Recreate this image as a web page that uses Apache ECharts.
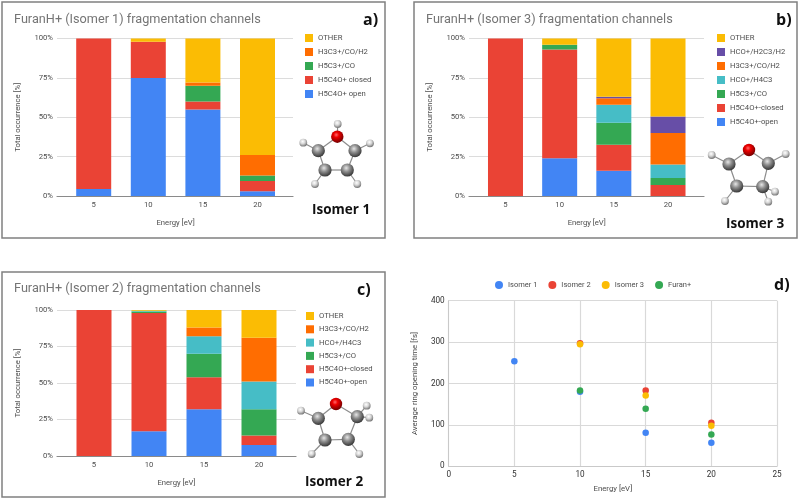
<!DOCTYPE html>
<html><head><meta charset="utf-8">
<style>html,body{margin:0;padding:0;background:#fff}#c{width:800px;height:501px}</style>
<script src="https://cdn.jsdelivr.net/npm/echarts@6/dist/echarts.min.js"></script>
</head><body><div id="c"></div>
<script>
// ---------- data ----------
const energies = ['5', '10', '15', '20'];

// panel a) Isomer 1 (stacked bottom to top)
const a_names  = ['H5C4O+ open', 'H5C4O+ closed', 'H5C3+/CO', 'H3C3+/CO/H2', 'OTHER'];
const a_open   = [4.5, 75, 55, 3];
const a_closed = [95.5, 23, 5, 6.5];
const a_h5c3   = [0, 0, 10, 3.5];
const a_h3c3   = [0, 0, 2, 13];
const a_other  = [0, 2, 28, 74];

// panel b) Isomer 3
const b_names  = ['H5C4O+-open', 'H5C4O+-closed', 'H5C3+/CO', 'HCO+/H4C3', 'H3C3+/CO/H2', 'HCO+/H2C3/H2', 'OTHER'];
const b_open   = [0, 24, 16, 0];
const b_closed = [100, 69, 16.5, 7];
const b_h5c3   = [0, 3, 14, 4.5];
const b_hco    = [0, 0, 11.5, 8.5];
const b_h3c3   = [0, 0, 4, 20];
const b_hco2   = [0, 0, 1, 10.5];
const b_other  = [0, 4, 37, 49.5];

// panel c) Isomer 2
const c_names  = ['H5C4O+-open', 'H5C4O+-closed', 'H5C3+/CO', 'HCO+/H4C3', 'H3C3+/CO/H2', 'OTHER'];
const c_open   = [0, 17, 32, 7.5];
const c_closed = [100, 81, 22, 6.5];
const c_h5c3   = [0, 1, 16, 18];
const c_hco    = [0, 0.5, 12, 19];
const c_h3c3   = [0, 0, 6, 30];
const c_other  = [0, 0.5, 12, 19];

// panel d) ring opening time [fs] vs energy [eV]
const d_isomer1 = [[5, 254], [10, 180], [15, 81], [20, 57]];
const d_isomer2 = [[10, 297], [15, 183], [20, 105]];
const d_isomer3 = [[10, 295], [15, 171], [20, 98]];
const d_furan   = [[10, 183], [15, 139], [20, 77]];

// ---------- styles ----------
const BLUE='#4285f4',RED='#ea4335',YEL='#fbbc04',GRN='#34a853',ORG='#ff6d01',TEAL='#46bdc6',PUR='#674ea7';
const FONT='Roboto';
const LABEL='#4d4d4d';

const a_colors=[BLUE,RED,GRN,ORG,YEL];
const b_colors=[BLUE,RED,GRN,TEAL,ORG,PUR,YEL];
const c_colors=[BLUE,RED,GRN,TEAL,ORG,YEL];

// Each stacked panel: an outer grid (gridlines, y labels, baseline) wider than
// the inner grid that holds the category bands and the bars.
const panels=[
 {id:'a',x0:57,x1:293,y0:38.5,y1:196,inL:66.4,inW:218.4,names:a_names,colors:a_colors,
  vals:[a_open,a_closed,a_h5c3,a_h3c3,a_other],legend:{left:305,top:34,gap:6}},
 {id:'b',x0:469,x1:704,y0:38.5,y1:196,inL:478.4,inW:216.7,names:b_names,colors:b_colors,
  vals:[b_open,b_closed,b_h5c3,b_hco,b_h3c3,b_hco2,b_other],legend:{left:717,top:34,gap:6}},
 {id:'c',x0:57,x1:296,y0:310,y1:456,inL:66.5,inW:220,names:c_names,colors:c_colors,
  vals:[c_open,c_closed,c_h5c3,c_hco,c_h3c3,c_other],legend:{left:306,top:312,gap:5.3}}
];

const grid=[],xAxis=[],yAxis=[],series=[],legend=[];
panels.forEach((p,i)=>{
 const outer=grid.length;
 grid.push({left:p.x0,top:p.y0,width:p.x1-p.x0,height:p.y1-p.y0});
 xAxis.push({type:'value',gridIndex:outer,min:0,max:1,
  axisLine:{show:true,lineStyle:{color:'#8a8a8a',width:1.2}},
  axisTick:{show:false},splitLine:{show:false},axisLabel:{show:false}});
 yAxis.push({type:'value',gridIndex:outer,min:0,max:100,interval:25,
  name:'Total occurrence [%]',nameLocation:'middle',nameGap:35,
  nameTextStyle:{fontFamily:FONT,fontSize:7.7,color:LABEL},
  axisLine:{show:false},axisTick:{show:false},
  splitLine:{lineStyle:{color:'#dcdcdc',width:1}},
  axisLabel:{formatter:'{value}%',fontFamily:FONT,fontSize:7.7,color:LABEL,margin:4}});
 const inner=grid.length;
 grid.push({left:p.inL,top:p.y0,width:p.inW,height:p.y1-p.y0});
 xAxis.push({type:'category',gridIndex:inner,data:energies,
  name:'Energy [eV]',nameLocation:'middle',nameGap:23,
  nameTextStyle:{fontFamily:FONT,fontSize:7.7,color:LABEL},
  axisLine:{show:false},axisTick:{show:false},
  axisLabel:{fontFamily:FONT,fontSize:7.7,color:LABEL,margin:5}});
 yAxis.push({type:'value',gridIndex:inner,min:0,max:100,interval:25,show:false});
 p.names.forEach((n,k)=>{
  series.push({type:'bar',name:n,xAxisIndex:inner,yAxisIndex:inner,stack:'s'+p.id,barWidth:35,
   itemStyle:{color:p.colors[k]},data:p.vals[k]});
 });
 legend.push({orient:'vertical',left:p.legend.left,top:p.legend.top,itemWidth:8,itemHeight:8,itemGap:p.legend.gap,
  selectedMode:false,icon:'rect',data:p.names.slice().reverse(),
  textStyle:{fontFamily:FONT,fontSize:7.7,color:LABEL},padding:0});
});

// panel d
const di=grid.length;
grid.push({left:448.7,top:300.7,width:328.3,height:165.6});
xAxis.push({type:'value',gridIndex:di,min:0,max:25,interval:5,
 name:'Energy [eV]',nameLocation:'middle',nameGap:19,
 nameTextStyle:{fontFamily:FONT,fontSize:7.8,color:LABEL},
 axisLine:{show:true,lineStyle:{color:'#c9c9c9'}},axisTick:{show:false},
 splitLine:{show:true,lineStyle:{color:'#d9d9d9',width:1.2}},
 axisLabel:{fontFamily:FONT,fontSize:8.2,color:'#333',margin:5}});
yAxis.push({type:'value',gridIndex:di,min:0,max:400,interval:100,
 name:'Average ring opening time [fs]',nameLocation:'middle',nameGap:30,
 nameTextStyle:{fontFamily:FONT,fontSize:7.8,color:LABEL},
 axisLine:{show:true,lineStyle:{color:'#c9c9c9'}},axisTick:{show:false},
 splitLine:{show:true,lineStyle:{color:'#d9d9d9',width:1.2}},
 axisLabel:{fontFamily:FONT,fontSize:8.2,color:'#333',margin:4}});
[['Isomer 1',d_isomer1,BLUE],['Isomer 2',d_isomer2,RED],['Isomer 3',d_isomer3,YEL],['Furan+',d_furan,GRN]].forEach(s=>{
 series.push({type:'scatter',name:s[0],xAxisIndex:di,yAxisIndex:di,data:s[1],symbolSize:6.5,itemStyle:{color:s[2],opacity:1}});
});
legend.push({orient:'horizontal',left:495,top:281,itemWidth:8,itemHeight:8,itemGap:11,selectedMode:false,padding:0,
 data:['Isomer 1','Isomer 2','Isomer 3','Furan+'].map(n=>({name:n,icon:'circle'})),
 textStyle:{fontFamily:FONT,fontSize:7.5,color:LABEL}});

// titles
const tt=(text,left,cy,size)=>({text,left,top:cy-size*0.6,padding:0,
 textStyle:{fontFamily:FONT,fontWeight:'normal',fontSize:size,color:'#757575',lineHeight:size*1.2}});
const bold=(text,left,cy,size)=>({text,left,top:cy-size*0.6,padding:0,
 textStyle:{fontFamily:'Open Sans',fontWeight:'bold',fontSize:size,color:'#111',lineHeight:size*1.2}});
const title=[
 tt('FuranH+ (Isomer 1) fragmentation channels',14,20,12.7),
 tt('FuranH+ (Isomer 3) fragmentation channels',426,20,12.7),
 tt('FuranH+ (Isomer 2) fragmentation channels',14,289,12.7),
 bold('a)',363,20,16),bold('b)',776,20,16),bold('c)',357,290,16),bold('d)',774,285,16),
 bold('Isomer 1',312,210,13.5),bold('Isomer 3',726,224,13.5),bold('Isomer 2',305,482,13.5)
];

// molecule sketches: atoms [kind,x,y] and bonds (index pairs)
const mol_a=[['C',318.3,150.7],['C',355,150.7],['C',325,170],['C',347.3,170],['O',337.3,136.7],['H',337.7,124],['H',303.3,142.7],['H',370,143.3],['H',315,184],['H',357.3,184]];
const mol_b=[['C',729,164],['C',768.3,163.3],['C',736.7,186],['C',762.7,186.7],['O',749,150],['H',711.7,155],['H',785.7,154],['H',725,201],['H',775,191.7],['H',768.3,201.7]];
const mol_c=[['C',318.3,418.3],['C',357.3,416.7],['C',325,440],['C',348.3,439.3],['O',336,404],['H',301,410.7],['H',366.7,405.7],['H',369.3,417.7],['H',311.7,454],['H',359.3,454]];
const mol_bonds_a=[[0,4],[1,4],[0,2],[1,3],[2,3],[4,5],[0,6],[1,7],[2,8],[3,9]];
const mol_bonds_b=[[0,4],[1,4],[0,2],[1,3],[2,3],[0,5],[1,6],[2,7],[3,8],[3,9]];
const mol_bonds_c=[[0,4],[1,4],[0,2],[1,3],[2,3],[0,5],[1,6],[1,7],[2,8],[3,9]];

const ballFill=k=>{
 const stops=k==='O'?[[0,'#ff6a6a'],[.35,'#ee0000'],[1,'#7a0000']]:
   k==='C'?[[0,'#e6e6e6'],[.45,'#8f8f8f'],[1,'#3d3d3d']]:[[0,'#ffffff'],[.5,'#d5d5d5'],[1,'#7d7d7d']];
 return {type:'radial',x:.42,y:.35,r:.62,colorStops:stops.map(s=>({offset:s[0],color:s[1]}))};
};
const RADIUS={C:6.6,O:6.2,H:3.9};
const gfx=[];
[[2,2,383,236],[414,2,383,236],[2,272,383,225]].forEach(f=>gfx.push({type:'rect',z:0,
 shape:{x:f[0],y:f[1],width:f[2],height:f[3]},style:{fill:'none',stroke:'#808080',lineWidth:1.5}}));
[[mol_a,mol_bonds_a],[mol_b,mol_bonds_b],[mol_c,mol_bonds_c]].forEach(([atoms,bonds])=>{
 bonds.forEach(([i,j])=>gfx.push({type:'line',z:10,shape:{x1:atoms[i][1],y1:atoms[i][2],x2:atoms[j][1],y2:atoms[j][2]},
  style:{stroke:'#8c8c8c',lineWidth:1.2}}));
 atoms.slice().sort((p,q)=>RADIUS[p[0]]-RADIUS[q[0]]).forEach(a=>gfx.push({type:'circle',z:11,
  shape:{cx:a[1],cy:a[2],r:RADIUS[a[0]]},style:{fill:ballFill(a[0])}}));
});

const chart=echarts.init(document.getElementById('c'),null,{renderer:'canvas'});
chart.setOption({animation:false,backgroundColor:'#fff',tooltip:{show:false},
 title,legend,grid,xAxis,yAxis,series,graphic:{elements:gfx}});
</script></body></html>
